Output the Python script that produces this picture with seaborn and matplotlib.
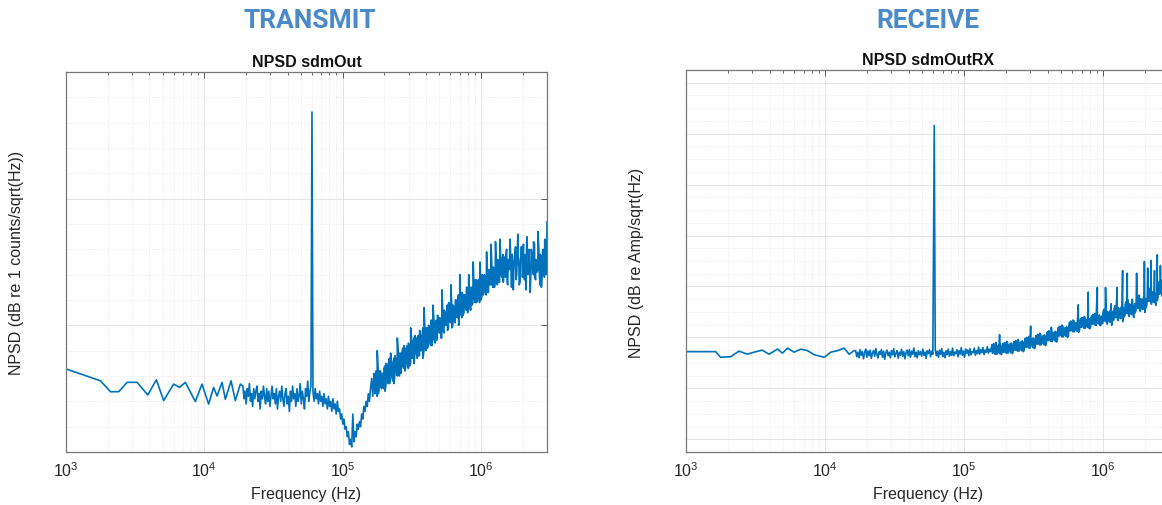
import numpy as np
import pandas as pd
import matplotlib
matplotlib.use("Agg")
import matplotlib.pyplot as plt
import seaborn as sns
from matplotlib.ticker import LogLocator, MultipleLocator, NullFormatter

# ---------------- DATA ----------------
# TRANSMIT panel: NPSD sdmOut, dB re 1 counts/sqrt(Hz)
tx_low_f = [1000, 1775, 2095, 2405, 2766, 3266, 3900, 4500, 5080, 6000, 6630,
            7290, 8610, 9620, 10740, 11670, 12350, 13430, 14190, 15600, 16750, 18200]
tx_low_db = [-117.2, -121.9, -126.2, -126.2, -122.5, -122.5, -127.5, -121.5, -129.7,
             -123.2, -124.5, -122.5, -130.1, -123.2, -131.1, -124.5, -127.9, -122.5,
             -129.2, -121.9, -129.7, -123.2]
# frequency spans (Hz) of the dense noisy readings, read at ~1 px steps
tx_span_a = [1.9e4, 5.9e4]
tx_span_b = [6.1e4, 1.59e5]
tx_span_c = [1.62e5, 1.45e6]
tx_span_c2 = [1.65e5, 1.44e6]
tx_span_d = [1.475e6, 3.0e6]
tx_span_d2 = [1.49e6, 2.98e6]
tx_noise_a = [-124, -129, -126, -131, -125, -128, -123, -130, -127, -132, -125, -129,
              -126, -124, -130, -127, -133, -126, -129, -124, -128, -131, -125, -130,
              -126, -132, -128, -124, -129, -127, -131, -125, -133, -128, -126, -130,
              -124, -129, -132, -127, -125, -131, -128, -134, -126, -130, -124, -129,
              -127, -132, -125, -130, -128, -123, -131, -126, -129, -133, -125, -128,
              -122, -130, -126, -124]
tx_noise_b = [-126, -130, -125, -129, -127, -131, -126, -130, -128, -132, -127, -131,
              -129, -133, -128, -132, -130, -134, -129, -133, -131, -135, -130, -134,
              -133, -137, -135, -139, -137, -141, -140, -144, -142, -147, -145, -148,
              -135, -146, -142, -144, -139, -141, -138, -140, -135, -137, -132, -134,
              -130, -132, -127, -130, -125]
tx_noise_c = [-121, -128, -119, -125, -122, -110, -127, -118, -124, -119, -124, -117,
              -126, -115, -120, -115, -123, -111, -120, -116, -123, -112, -117, -105,
              -119, -111, -119, -111, -116, -108, -118, -109, -113, -107, -116, -101,
              -113, -107, -115, -104, -110, -105, -112, -102, -110, -105, -113, -93,
              -109, -101, -109, -100, -105, -98, -108, -92, -105, -99, -106, -96,
              -102, -97, -105, -86, -102, -94, -100, -95, -102, -91, -98, -84,
              -101, -92, -98, -90, -96, -91, -100, -80, -95, -87, -96, -88,
              -92, -85, -95, -80, -91, -85, -92, -75, -89, -82, -91, -84,
              -88, -75, -90, -80, -88, -80, -85, -71, -87, -78, -84, -68,
              -84, -77, -85, -67, -81, -74, -83, -66, -80, -74, -83]
tx_noise_c2 = [-128, -120, -127, -118, -128, -119, -124, -118, -125, -119, -125, -116,
               -123, -116, -123, -113, -120, -115, -122, -113, -119, -114, -120, -111,
               -120, -111, -116, -109, -117, -110, -115, -108, -117, -109, -115, -106,
               -113, -105, -111, -106, -113, -104, -112, -104, -110, -101, -110, -103,
               -110, -101, -107, -101, -108, -98, -105, -98, -107, -98, -105, -97,
               -103, -98, -105, -95, -103, -95, -100, -92, -101, -94, -99, -92,
               -100, -93, -99, -90, -97, -88, -95, -90, -97, -88, -95, -88,
               -94, -85, -94, -87, -94, -85, -91, -85, -91, -82, -89, -82,
               -91, -82, -89, -81, -87, -82, -88, -79, -87, -79, -84, -76,
               -85, -78, -83, -76, -84, -77, -83, -74, -81, -72]
tx_noise_d = [-73, -81, -70, -84, -75, -66, -79, -72, -86, -74, -69, -80, -64, -77,
              -83, -71, -78, -68, -82, -75, -65, -80, -73, -87, -70, -76, -67, -81,
              -74, -79, -63, -78, -72, -85, -71, -77, -66, -80, -59]
tx_noise_d2 = [-80, -72, -83, -74, -78, -70, -85, -75, -79, -71, -82, -76, -73, -84,
               -74, -69, -81, -77, -72, -86, -75, -79, -70, -83, -76, -74, -80, -68,
               -82, -75, -78, -71, -84, -73, -79, -70, -81, -76, -74]
tx_tone_f = [6.0e4]
tx_tone_db = [-15.8]

# RECEIVE panel: NPSD sdmOutRX, dB re Amp/sqrt(Hz)
rx_low_f = [1000, 1274, 1633, 1774, 2094, 2404, 2761, 3083, 3540, 3954, 4550, 4943,
            5370, 5980, 6700, 7480, 8340, 9860, 11000, 12300, 13700, 14900, 16200]
rx_low_db = [-172.8, -172.8, -172.8, -173.9, -173.8, -172.7, -173.3, -172.9, -172.5,
             -173.3, -172.3, -173.1, -172.1, -172.9, -172.3, -172.6, -173.4, -173.9,
             -172.9, -172.6, -172.1, -173.3, -172.6]
rx_span_a = [1.66e4, 5.96e4]
rx_span_b = [6.2e4, 1.55e5]
rx_span_c = [1.585e5, 3.0e6]
rx_span_c2 = [1.6e5, 2.98e6]
rx_noise_a = [-172.6, -173.8, -172.9, -174.0, -172.4, -173.5, -172.8, -174.2, -173.0,
              -172.3, -173.9, -172.7, -173.6, -172.5, -174.1, -173.1, -172.6, -173.7,
              -172.2, -173.4, -174.0, -172.8, -173.3, -172.4, -173.9, -172.7, -174.3,
              -173.0, -172.5, -173.6, -172.9, -174.0, -172.6, -173.4, -172.2, -173.8,
              -173.1, -172.6, -174.1, -172.9, -173.5, -172.3, -173.7, -172.8, -174.2,
              -173.0, -172.5, -173.6, -172.4, -173.9, -172.7, -173.3, -172.1, -173.8,
              -172.9, -174.0, -172.6, -173.4, -172.8, -173.7, -172.3, -173.5, -172.9,
              -174.1, -172.6, -173.2, -172.4, -173.8, -172.7, -173.3]
rx_noise_b = [-172.4, -173.6, -172.7, -173.9, -172.5, -173.3, -172.2, -173.8, -172.9,
              -174.0, -172.6, -173.4, -172.3, -173.7, -172.8, -173.5, -172.1, -173.6,
              -172.9, -173.2, -172.4, -173.8, -172.6, -173.3, -172.0, -173.5, -172.7,
              -173.9, -172.3, -173.1, -172.5, -173.6, -172.2, -173.4, -172.8, -173.0,
              -172.1, -173.5, -172.6, -173.2, -171.9, -173.3, -172.4, -173.0, -172.0,
              -173.4, -172.5, -172.9, -171.8, -173.1, -172.3, -172.8]
rx_noise_c = [-171.4, -173.1, -171.7, -173.3, -171.2, -172.8, -171.5, -173.2, -171.8, -173.0,
              -171.2, -172.9, -171.5, -173.1, -171.0, -172.6, -171.3, -173.0, -171.6, -172.8,
              -170.8, -172.5, -171.1, -172.7, -170.6, -172.2, -170.9, -172.6, -171.2, -172.4,
              -170.2, -171.9, -170.5, -172.1, -170.0, -171.6, -170.3, -172.0, -170.6, -171.8,
              -169.6, -171.3, -169.9, -171.5, -169.4, -171.0, -169.7, -171.4, -170.0, -171.2,
              -168.9, -170.6, -169.2, -170.8, -168.7, -170.3, -169.0, -170.7, -169.3, -170.5,
              -168.0, -169.7, -168.3, -169.9, -167.8, -169.4, -168.1, -169.8, -168.4, -169.6,
              -167.0, -168.7, -167.3, -168.9, -166.8, -168.4, -167.1, -168.8, -167.4, -168.6,
              -166.3, -168.0, -166.6, -168.2, -166.1, -167.7, -166.4, -168.1, -166.7, -167.9,
              -165.7, -167.4, -166.0, -167.6, -165.5, -167.1, -165.8, -167.5, -166.1, -167.3,
              -165.1, -166.8, -165.4, -167.0, -164.9, -166.5, -165.2, -166.9, -165.5, -166.7,
              -164.4, -166.1, -164.7, -166.3, -164.2, -165.8, -164.5, -166.2, -164.8, -166.0,
              -163.6, -165.3, -163.9, -165.5, -163.4, -165.0, -163.7, -165.4, -164.0, -165.2,
              -162.6, -164.3, -162.9, -164.5, -162.4, -164.0, -162.7, -164.4, -163.0, -164.2,
              -161.2, -162.9, -161.5, -163.1, -161.0, -162.6, -161.3, -163.0, -161.6, -162.8,
              -159.8, -161.5, -160.1, -161.6, -159.6, -161.1, -159.9, -161.3, -159.4, -160.9,
              -159.2]
rx_noise_c2 = [-173.1, -171.2, -172.8, -171.0, -173.3, -171.7, -173.0, -171.3, -173.4, -171.5,
               -172.9, -171.0, -172.6, -170.8, -173.1, -171.5, -172.8, -171.1, -173.2, -171.3,
               -172.5, -170.6, -172.2, -170.4, -172.7, -171.1, -172.4, -170.7, -172.8, -170.9,
               -171.9, -170.0, -171.6, -169.8, -172.1, -170.5, -171.8, -170.1, -172.2, -170.3,
               -171.3, -169.4, -171.0, -169.2, -171.5, -169.9, -171.2, -169.5, -171.6, -169.7,
               -170.6, -168.7, -170.3, -168.5, -170.8, -169.2, -170.5, -168.8, -170.9, -169.0,
               -169.7, -167.8, -169.4, -167.6, -169.9, -168.3, -169.6, -167.9, -170.0, -168.1,
               -168.7, -166.8, -168.4, -166.6, -168.9, -167.3, -168.6, -166.9, -169.0, -167.1,
               -168.0, -166.1, -167.7, -165.9, -168.2, -166.6, -167.9, -166.2, -168.3, -166.4,
               -167.4, -165.5, -167.1, -165.3, -167.6, -166.0, -167.3, -165.6, -167.7, -165.8,
               -167.2, -164.5, -166.7, -164.2, -167.4, -165.2, -167.0, -164.6, -167.6, -164.9,
               -166.5, -163.8, -166.0, -163.5, -166.7, -164.5, -166.3, -163.9, -166.9, -164.2,
               -165.7, -163.0, -165.2, -162.7, -165.9, -163.7, -165.5, -163.1, -166.1, -163.4,
               -164.7, -162.0, -164.2, -161.7, -164.9, -162.7, -164.5, -162.1, -165.1, -162.4,
               -163.3, -160.6, -162.8, -160.3, -163.5, -161.3, -163.1, -160.7, -163.7, -161.0,
               -161.8, -159.1, -161.3, -158.8, -162.0, -159.8, -161.6, -159.2, -162.2, -159.5,
               -160.8]
rx_tone_f = [6.1e4]
rx_tone_db = [-128.4]
rx_spur_f = [1.8e5, 3.01e5, 4.24e5, 6.62e5, 7.81e5, 9.08e5, 1.04e6, 1.14e6, 1.26e6,
             1.38e6, 1.49e6, 1.62e6, 1.74e6, 1.98e6, 2.09e6, 2.21e6, 2.34e6, 2.45e6,
             2.58e6]
rx_spur_db = [-169.5, -167.8, -168.0, -163.6, -161.1, -160.2, -160.2, -163.4, -160.2,
              -156.9, -157.4, -162.5, -157.4, -155.1, -156.4, -154.9, -156.9, -153.8,
              -155.9]

panel_headers = ["TRANSMIT", "RECEIVE"]
panel_titles = ["NPSD sdmOut", "NPSD sdmOutRX"]
panel_ylabels = ["NPSD (dB re 1 counts/sqrt(Hz))", "NPSD (dB re Amp/sqrt(Hz)"]
x_label = "Frequency (Hz)"


def build(low_f, low_db, spans, noises, extra_f, extra_db):
    f = list(low_f)
    d = list(low_db)
    for (f0, f1), vals in zip(spans, noises):
        f += list(np.geomspace(f0, f1, len(vals)))
        d += list(vals)
    f += list(extra_f)
    d += list(extra_db)
    return pd.DataFrame({"f": f, "db": d}).sort_values("f").reset_index(drop=True)


tx_df = build(tx_low_f, tx_low_db,
              [tx_span_a, tx_span_b, tx_span_c, tx_span_c2, tx_span_d, tx_span_d2],
              [tx_noise_a, tx_noise_b, tx_noise_c, tx_noise_c2, tx_noise_d, tx_noise_d2],
              tx_tone_f, tx_tone_db)
rx_df = build(rx_low_f, rx_low_db,
              [rx_span_a, rx_span_b, rx_span_c, rx_span_c2],
              [rx_noise_a, rx_noise_b, rx_noise_c, rx_noise_c2],
              rx_tone_f + rx_spur_f, rx_tone_db + rx_spur_db)

# ---------------- STYLE ----------------
sns.set_style("white")
plt.rcParams["font.family"] = ["Liberation Sans", "DejaVu Sans"]
plt.rcParams["mathtext.default"] = "regular"

W, H = 1162, 506
fig = plt.figure(figsize=(W / 100, H / 100), dpi=100)
fig.patch.set_facecolor("white")

ax_tx = fig.add_axes([66 / W, 1 - 453 / H, 481 / W, 380 / H])
ax_rx = fig.add_axes([686 / W, 1 - 453 / H, 483.5 / W, 382 / H])

LINE = "#0072BD"


def style(ax, ylim, ymaj, ymin):
    ax.set_xscale("log")
    ax.set_xlim(1e3, 3e6)
    ax.set_ylim(*ylim)
    ax.xaxis.set_major_locator(LogLocator(base=10, numticks=12))
    ax.xaxis.set_minor_locator(LogLocator(base=10, subs=np.arange(2, 10), numticks=12))
    ax.xaxis.set_minor_formatter(NullFormatter())
    ax.yaxis.set_major_locator(MultipleLocator(ymaj))
    ax.yaxis.set_minor_locator(MultipleLocator(ymin))
    ax.tick_params(which="both", direction="in", top=True, right=True,
                   labelleft=False, color="#555555")
    ax.tick_params(axis="x", which="major", length=4, width=0.7, pad=6,
                   labelsize=11.5, labelcolor="#262626")
    ax.tick_params(axis="x", which="minor", length=2.5, width=0.6)
    ax.tick_params(axis="y", which="major", length=4, width=0.7)
    ax.tick_params(axis="y", which="minor", length=0)
    ax.grid(which="major", color="#e0e0e0", linewidth=0.6, linestyle="-")
    ax.grid(which="minor", color="#e4e4e4", linewidth=0.6, linestyle=":")
    ax.set_axisbelow(True)
    for s in ax.spines.values():
        s.set_color("#777777")
        s.set_linewidth(0.9)
    ax.set_ylabel("")


for ax, df, ylim, ymaj, ymin, title in [
    (ax_tx, tx_df, (-150, 0), 50, 10, panel_titles[0]),
    (ax_rx, rx_df, (-192.5, -117.5), 10, 2.5, panel_titles[1]),
]:
    sns.lineplot(data=df, x="f", y="db", ax=ax, estimator=None, sort=True,
                 color=LINE, linewidth=1.2)
    style(ax, ylim, ymaj, ymin)
    ax.set_title(title, fontsize=11.5, fontweight="bold", color="#111111", pad=4)
    ax.set_xlabel(x_label, fontsize=11.5, color="#262626", labelpad=5)

fig.text(17 / W, 1 - 263 / H, panel_ylabels[0], rotation=90, ha="center",
         va="center", fontsize=11.5, color="#262626")
fig.text(637 / W, 1 - 263 / H, panel_ylabels[1], rotation=90, ha="center",
         va="center", fontsize=11.5, color="#262626")

HEAD = "#4a8ac9"
fig.text(310 / W, 1 - 21 / H, panel_headers[0], ha="center", va="center",
         fontsize=19, fontweight="bold", color=HEAD, family=["Roboto", "DejaVu Sans"])
fig.text(928 / W, 1 - 21 / H, panel_headers[1], ha="center", va="center",
         fontsize=19, fontweight="bold", color=HEAD, family=["Roboto", "DejaVu Sans"])

fig.savefig("out.png", dpi=100, facecolor="white")
